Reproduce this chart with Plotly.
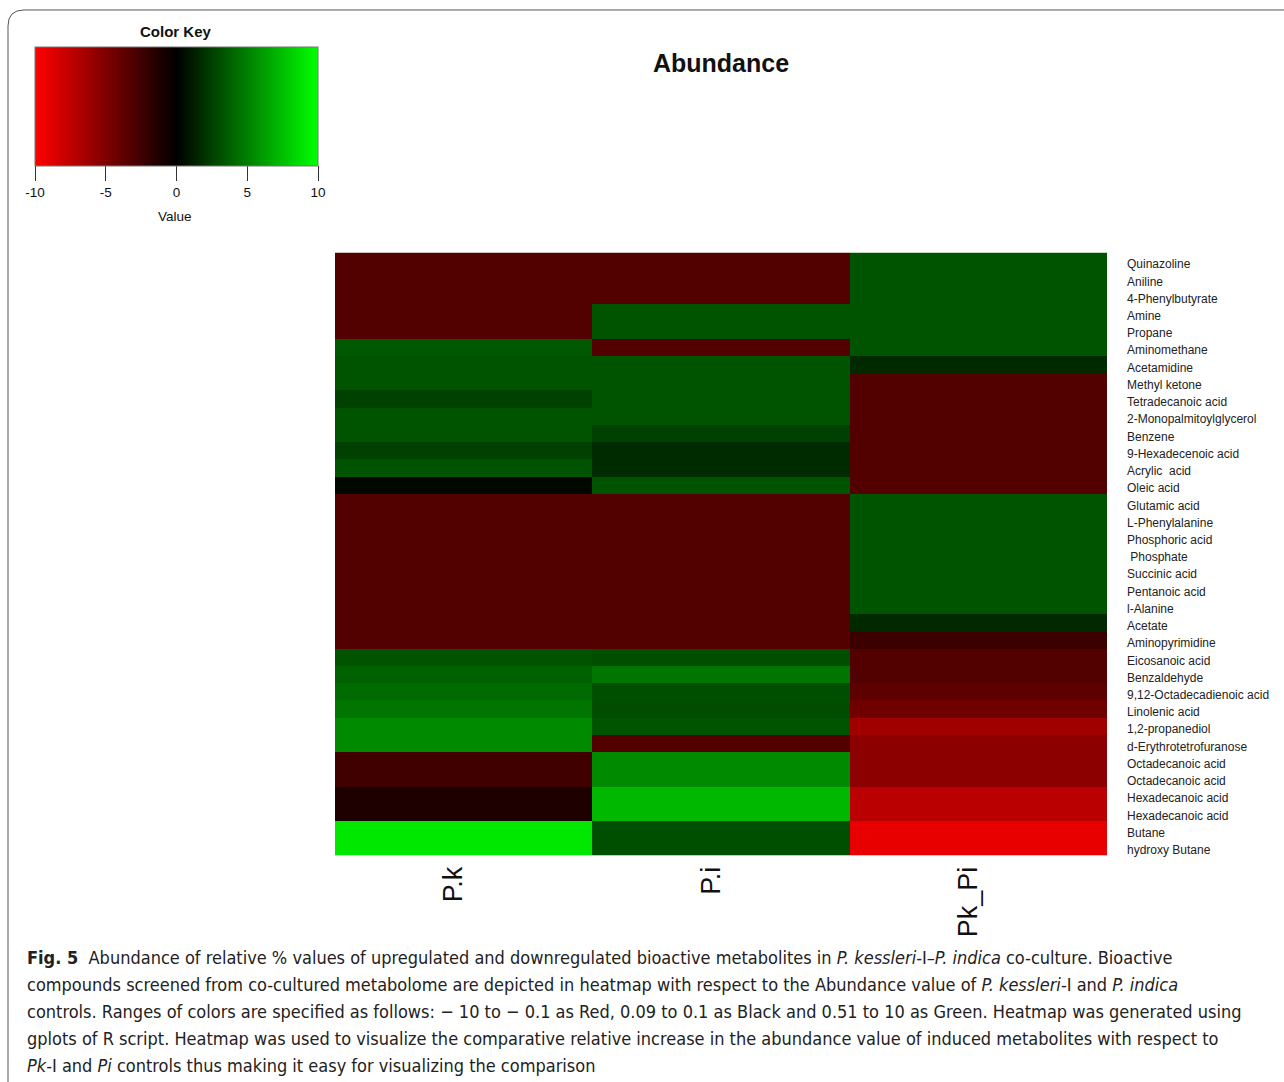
import plotly.graph_objects as go

# Metabolites, top to bottom
metabolites = [
    "Quinazoline", "Aniline", "4-Phenylbutyrate", "Amine", "Propane",
    "Aminomethane", "Acetamidine", "Methyl ketone", "Tetradecanoic acid",
    "2-Monopalmitoylglycerol", "Benzene", "9-Hexadecenoic acid",
    "Acrylic\u00a0 acid", "Oleic acid", "Glutamic acid", "L-Phenylalanine",
    "Phosphoric acid", "\u00a0Phosphate", "Succinic acid", "Pentanoic acid",
    "l-Alanine", "Acetate", "Aminopyrimidine", "Eicosanoic acid",
    "Benzaldehyde", "9,12-Octadecadienoic acid", "Linolenic acid",
    "1,2-propanediol", "d-Erythrotetrofuranose", "Octadecanoic acid",
    "Octadecanoic acid", "Hexadecanoic acid", "Hexadecanoic acid",
    "Butane", "hydroxy Butane",
]

samples = ["P.k", "P.i", "Pk_Pi"]

# Abundance values per sample (same row order as metabolites)
pk = [-3.2, -3.2, -3.2, -3.2, -3.2, 3.5, 3.3, 3.3, 2.5, 3.3, 3.3, 2.5, 3.3, 0.3,
      -3.2, -3.2, -3.2, -3.2, -3.2, -3.2, -3.2, -3.2, -3.2,
      3.3, 3.8, 4.2, 4.6, 5.4, 5.4, -2.5, -2.5, -1.2, -1.2, 9.1, 9.1]
pi = [-3.2, -3.2, -3.2, 3.3, 3.3, -3.2, 3.3, 3.3, 3.3, 3.3, 2.5, 1.7, 1.7, 3.3,
      -3.2, -3.2, -3.2, -3.2, -3.2, -3.2, -3.2, -3.2, -3.2,
      3.1, 4.6, 3.1, 3.0, 3.3, -3.2, 5.4, 5.4, 7.2, 7.2, 3.1, 3.1]
pk_pi = [3.3, 3.3, 3.3, 3.3, 3.3, 3.3, 1.6, -3.2, -3.2, -3.2, -3.2, -3.2, -3.2, -3.2,
         3.3, 3.3, 3.3, 3.3, 3.3, 3.3, 3.3, 1.6, -2.4,
         -3.2, -3.2, -3.6, -4.4, -6.3, -5.5, -5.5, -5.5, -7.3, -7.3, -9.1, -9.1]

key_ticks = [-10, -5, 0, 5, 10]
key_ticktext = ["-10", "-5", "0", "5", "10"]

W, H = 1284, 1082


def px_x(v):
    return v / W


def px_y(v):
    return 1 - v / H


z = [[a, b, c] for a, b, c in zip(pk, pi, pk_pi)]
rows = list(range(len(metabolites)))

redgreen = [[0.0, "rgb(255,0,0)"], [0.5, "rgb(0,0,0)"], [1.0, "rgb(0,255,0)"]]

label_font = "Liberation Sans, Arial, sans-serif"

fig = go.Figure()
fig.add_trace(go.Heatmap(
    z=z,
    x=[0, 1, 2],
    y=rows,
    zmin=-10, zmax=10,
    colorscale=redgreen,
    hoverinfo="skip",
    colorbar=dict(
        orientation="h",
        x=px_x(176.5), xanchor="center",
        y=px_y(47), yanchor="top",
        len=283, lenmode="pixels",
        thickness=119, thicknessmode="pixels",
        xpad=0, ypad=0,
        outlinewidth=1, outlinecolor="#777777",
        tickmode="array", tickvals=key_ticks, ticktext=key_ticktext,
        ticks="outside", ticklen=15, tickwidth=1, tickcolor="#333333",
        tickfont=dict(family=label_font, size=13.5, color="#111111"),
    ),
))

fig.update_layout(
    width=W, height=H,
    margin=dict(l=0, r=0, t=0, b=0),
    paper_bgcolor="white",
    plot_bgcolor="white",
    title=dict(text="<b>Abundance</b>", x=px_x(721), xanchor="center",
               y=px_y(63), yanchor="middle",
               font=dict(family=label_font, size=25, color="#111111")),
    xaxis=dict(
        domain=[px_x(335), px_x(1107)],
        tickmode="array", tickvals=[0, 1, 2], ticktext=samples,
        tickangle=-90, ticks="", showgrid=False, zeroline=False,
        tickfont=dict(family=label_font, size=27, color="#111111"),
        ticklabelshift=-10, ticklabelstandoff=5,
        range=[-0.5, 2.5],
    ),
    yaxis=dict(
        domain=[px_y(857), px_y(253)],
        side="right",
        tickmode="array", tickvals=rows, ticktext=metabolites,
        ticks="", showgrid=False, zeroline=False,
        autorange="reversed",
        tickfont=dict(family=label_font, size=12, color="#222222"),
        ticklabelstandoff=19,
        ticklabelshift=-3,
    ),
    showlegend=False,
)

# Colour key heading and axis caption
fig.add_annotation(text="<b>Color Key</b>", x=px_x(176), y=px_y(32),
                   xref="paper", yref="paper", showarrow=False,
                   xanchor="center", yanchor="middle",
                   font=dict(family=label_font, size=15, color="#111111"))
fig.add_annotation(text="Value", x=px_x(175), y=px_y(217),
                   xref="paper", yref="paper", showarrow=False,
                   xanchor="center", yanchor="middle",
                   font=dict(family=label_font, size=13.5, color="#111111"))

# Rounded frame around the figure panel
fig.add_shape(
    type="path", xref="paper", yref="paper",
    path=(f"M {px_x(8)},{px_y(1090)} L {px_x(8)},{px_y(26)} "
          f"Q {px_x(8)},{px_y(10)} {px_x(24)},{px_y(10)} L {px_x(1290)},{px_y(10)}"),
    line=dict(color="#555555", width=1),
)

# Figure caption
caption = [
    "<b>Fig. 5</b>  Abundance of relative % values of upregulated and downregulated bioactive metabolites in "
    "<i>P. kessleri</i>-I–<i>P. indica</i> co-culture. Bioactive",
    "compounds screened from co-cultured metabolome are depicted in heatmap with respect to the Abundance value of "
    "<i>P. kessleri</i>-I and <i>P. indica</i>",
    "controls. Ranges of colors are specified as follows: − 10 to − 0.1 as Red, 0.09 to 0.1 as Black and 0.51 to 10 "
    "as Green. Heatmap was generated using",
    "gplots of R script. Heatmap was used to visualize the comparative relative increase in the abundance value of "
    "induced metabolites with respect to",
    "<i>Pk</i>-I and <i>Pi</i> controls thus making it easy for visualizing the comparison",
]
caption_font = "Liberation Sans Narrow, DejaVu Sans Condensed, Arial Narrow, sans-serif"
for i, line in enumerate(caption):
    fig.add_annotation(text=line, x=px_x(25), y=px_y(959 + 27 * i),
                       xref="paper", yref="paper", showarrow=False,
                       xanchor="left", yanchor="middle",
                       font=dict(family=caption_font, size=18, color="#222222"))

fig.write_html("out.html")
